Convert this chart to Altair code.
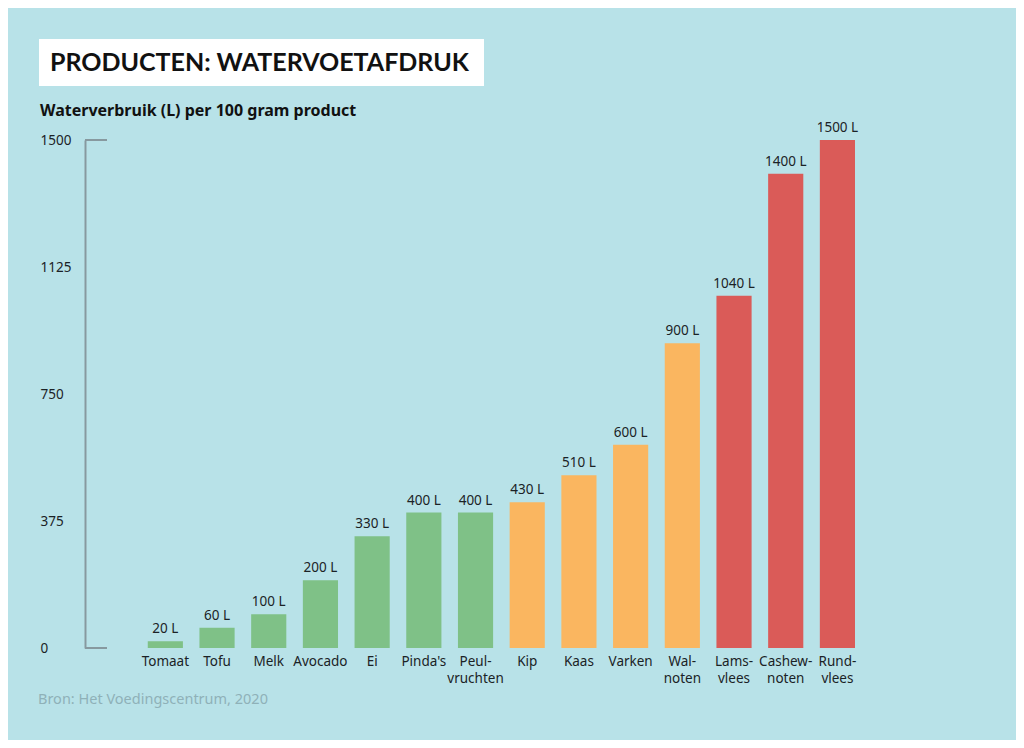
import altair as alt
import pandas as pd

products = ["Tomaat", "Tofu", "Melk", "Avocado", "Ei", "Pinda's", "Peul-|vruchten",
            "Kip", "Kaas", "Varken", "Wal-|noten", "Lams-|vlees", "Cashew-|noten", "Rund-|vlees"]
liters = [20, 60, 100, 200, 330, 400, 400, 430, 510, 600, 900, 1040, 1400, 1500]
groups = ["plant"] * 7 + ["mid"] * 4 + ["high"] * 3
y_ticks = [0, 375, 750, 1125, 1500]

group_domain = ["plant", "mid", "high"]
group_colors = ["#7fc187", "#fab660", "#da5b58"]

BG = "#b8e2e8"
TXT = "#1b2226"
FONT = "Noto Sans"

df = pd.DataFrame({"product": products, "liters": liters, "group": groups})
df["label"] = df["liters"].astype(str) + " L"

x_enc = alt.X("product:N", sort=products, title=None,
              scale=alt.Scale(paddingInner=0.32, paddingOuter=0.607, align=1),
              axis=alt.Axis(domain=False, ticks=False, labelAngle=0,
                            labelExpr="split(datum.value, '|')",
                            labelFont=FONT, labelFontSize=13.5, labelColor=TXT,
                            labelPadding=6, labelLineHeight=17))
y_enc = alt.Y("liters:Q", title=None,
              scale=alt.Scale(domain=[0, 1500], nice=False),
              axis=alt.Axis(values=y_ticks, format="d", grid=False, ticks=False, domain=True,
                            domainColor="#87999f", domainWidth=2,
                            labelAlign="left", labelPadding=45,
                            labelFont=FONT, labelFontSize=13.5, labelColor=TXT))

bars = alt.Chart(df).mark_bar().encode(
    x=x_enc, y=y_enc,
    color=alt.Color("group:N", scale=alt.Scale(domain=group_domain, range=group_colors), legend=None),
)

values = alt.Chart(df).mark_text(baseline="bottom", dy=-5, font=FONT, fontSize=13.5, color=TXT).encode(
    x=alt.X("product:N", sort=products), y="liters:Q", text="label:N")

bracket = alt.Chart(pd.DataFrame({"v": [0, 1500]})).mark_rule(color="#87999f", strokeWidth=2).encode(
    y="v:Q", x=alt.value(0), x2=alt.value(22))

title_box = alt.Chart(pd.DataFrame({"t": ["PRODUCTEN: WATERVOETAFDRUK"]})).mark_rect(color="white").encode(
    x=alt.value(-46), x2=alt.value(399), y=alt.value(-101), y2=alt.value(-54))
title_txt = alt.Chart(pd.DataFrame({"t": ["PRODUCTEN: WATERVOETAFDRUK"]})).mark_text(
    align="left", baseline="middle", font="Lato", fontSize=25, fontWeight="bold", color="#111111").encode(
    x=alt.value(-35), y=alt.value(-77), text="t:N")
subtitle = alt.Chart(pd.DataFrame({"t": ["Waterverbruik (L) per 100 gram product"]})).mark_text(
    align="left", baseline="middle", font=FONT, fontSize=16, fontWeight="bold", color="#111111").encode(
    x=alt.value(-45), y=alt.value(-29), text="t:N")
source = alt.Chart(pd.DataFrame({"t": ["Bron: Het Voedingscentrum, 2020"]})).mark_text(
    align="left", baseline="middle", font=FONT, fontSize=14.5, color="#8fb1b8").encode(
    x=alt.value(-47), y=alt.value(560), text="t:N")

chart = alt.layer(bars, values, bracket, title_box, title_txt, subtitle, source).properties(
    width=770, height=508,
    autosize=alt.AutoSizeParams(type="none"),
    padding={"left": 77, "top": 132, "right": 161, "bottom": 92},
    background=BG,
).configure_view(stroke=None)

chart.save("out.html", embed_options={"renderer": "svg", "actions": False})
